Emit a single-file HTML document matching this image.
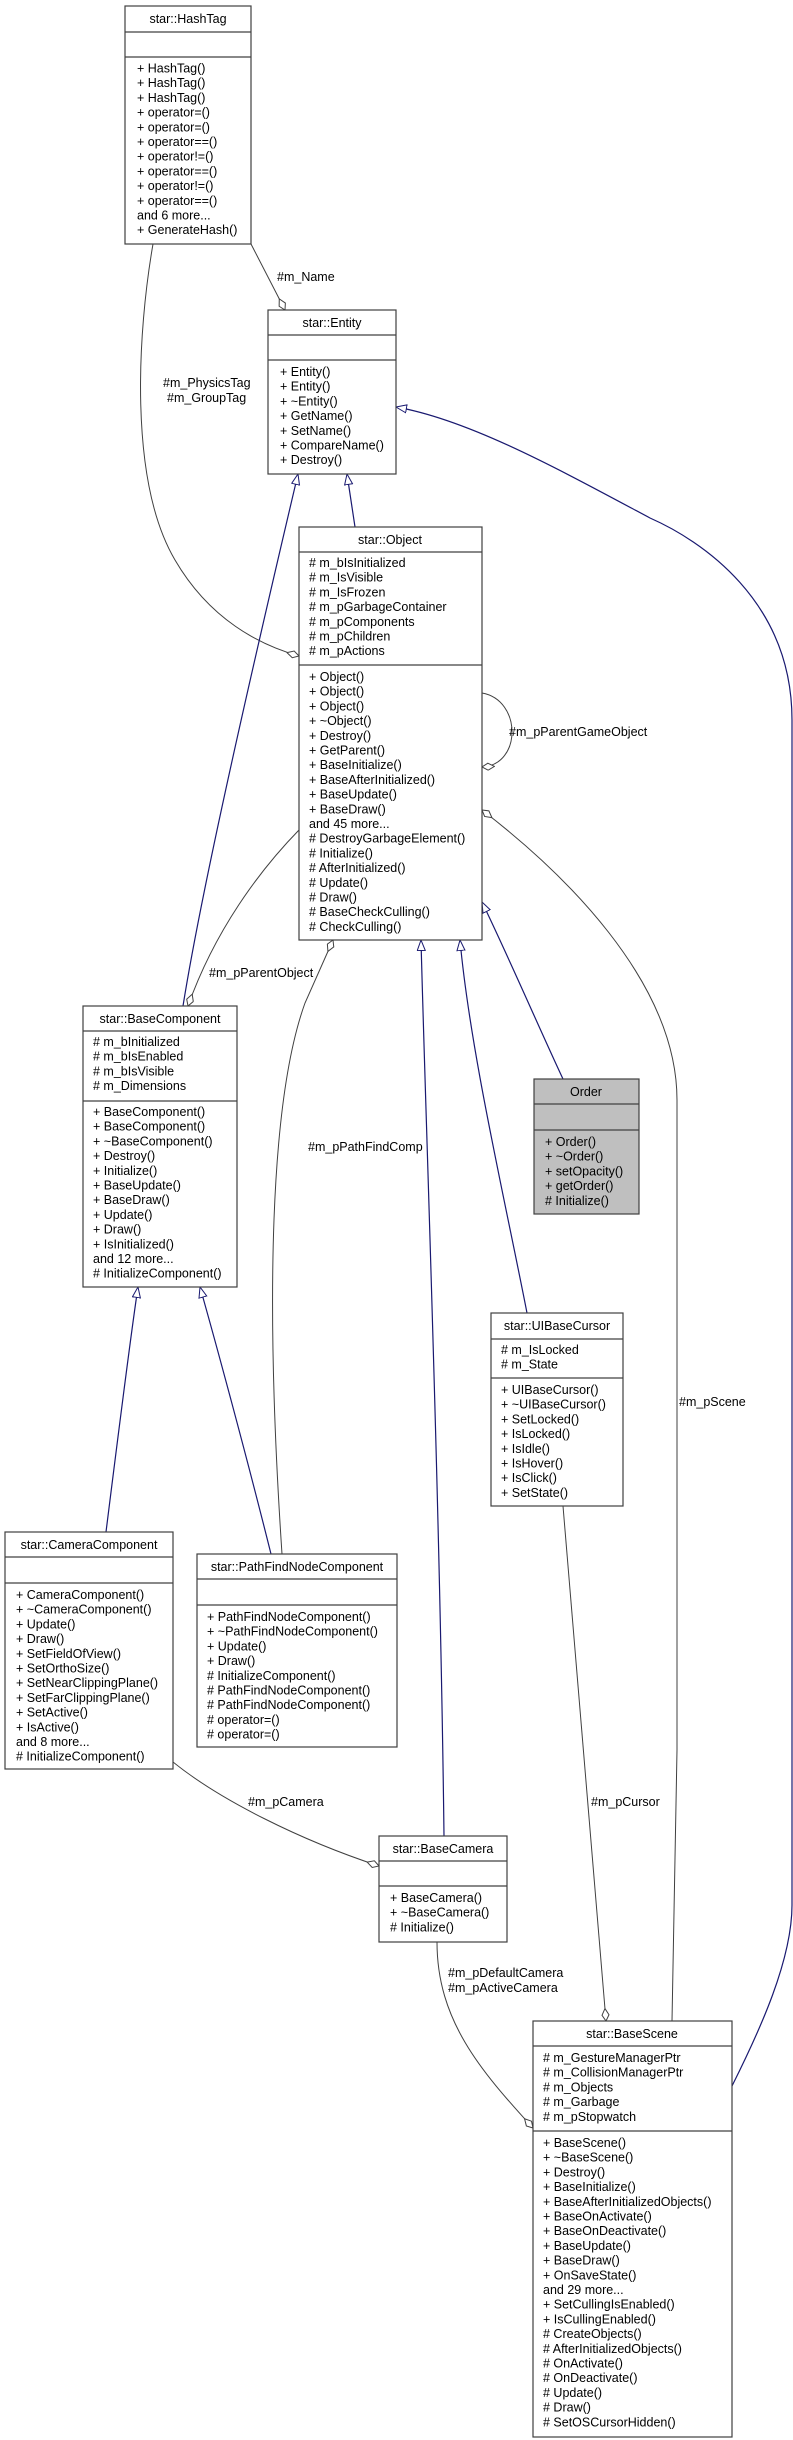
<!DOCTYPE html>
<html><head><meta charset="utf-8"><style>
html,body{margin:0;padding:0;background:#fff;}
svg{display:block;font-family:"Liberation Sans",Arial,sans-serif;font-size:12.5px;}
.b{fill:#fff;stroke:#404040;stroke-width:1.2;}
.d{stroke:#404040;stroke-width:1.2;}
.g{fill:none;stroke:#404040;stroke-width:1;}
.u{fill:none;stroke:#191970;stroke-width:1.2;}
text{fill:#000;}
</style></head><body>
<svg width="793" height="2440" viewBox="0 0 793 2440" xmlns="http://www.w3.org/2000/svg">
<defs>
<marker id="tri" markerUnits="userSpaceOnUse" markerWidth="14" markerHeight="10" refX="11" refY="4.5" orient="auto">
<path d="M0.5,0.5 L11,4.5 L0.5,8.5 Z" fill="#fff" stroke="#191970" stroke-width="1"/></marker>
<marker id="dia" markerUnits="userSpaceOnUse" markerWidth="15" markerHeight="9" refX="13" refY="4" orient="auto">
<path d="M0.5,4 L7,0.5 L13,4 L7,7.5 Z" fill="#fff" stroke="#404040" stroke-width="1"/></marker>
</defs>

<!-- connectors -->
<path class="g" d="M251,244 L285,310" marker-end="url(#dia)"/>
<path class="g" d="M153,244 C138,330 128,480 175,560 C210,620 260,645 299,656" marker-end="url(#dia)"/>
<path class="u" d="M355,527 L347,474" marker-end="url(#tri)"/>
<path class="u" d="M183,1006 C200,900 240,720 298,474" marker-end="url(#tri)"/>
<path class="u" d="M732,2086 C760,2030 792,1960 792,1905 L792,720 C792,600 700,540 650,518 C560,470 470,420 396,407" marker-end="url(#tri)"/>
<path class="g" d="M482,693 C522,700 522,765 482,767" marker-end="url(#dia)"/>
<path class="g" d="M672,2021 L677,1750 L677,1100 C677,980 560,870 482,810" marker-end="url(#dia)"/>
<path class="u" d="M563,1079 C540,1030 510,960 482,902" marker-end="url(#tri)"/>
<path class="u" d="M527,1313 C505,1200 470,1050 460,940" marker-end="url(#tri)"/>
<path class="u" d="M444,1836 C440,1500 425,1100 421,940" marker-end="url(#tri)"/>
<path class="g" d="M299,830 C260,870 215,930 188,1006" marker-end="url(#dia)"/>
<path class="g" d="M282,1554 C265,1300 270,1100 305,1003 L333,940" marker-end="url(#dia)"/>
<path class="u" d="M106,1532 C120,1420 130,1340 138,1287" marker-end="url(#tri)"/>
<path class="u" d="M271,1554 C245,1450 215,1340 200,1287" marker-end="url(#tri)"/>
<path class="g" d="M173,1762 C220,1800 300,1840 379,1866" marker-end="url(#dia)"/>
<path class="g" d="M437,1942 C437,2020 480,2070 533,2128" marker-end="url(#dia)"/>
<path class="g" d="M563,1506 L606,2021" marker-end="url(#dia)"/>

<!-- labels -->
<text x="277" y="281">#m_Name</text>
<text x="163" y="387">#m_PhysicsTag</text>
<text x="167" y="402">#m_GroupTag</text>
<text x="509" y="736">#m_pParentGameObject</text>
<text x="209" y="977">#m_pParentObject</text>
<text x="308" y="1151">#m_pPathFindComp</text>
<text x="679" y="1406">#m_pScene</text>
<text x="591" y="1806">#m_pCursor</text>
<text x="248" y="1806">#m_pCamera</text>
<text x="448" y="1977">#m_pDefaultCamera</text>
<text x="448" y="1992">#m_pActiveCamera</text>

<!-- HashTag -->
<rect class="b" x="125" y="6" width="126" height="238"/>
<line class="d" x1="125" y1="32" x2="251" y2="32"/><line class="d" x1="125" y1="57" x2="251" y2="57"/>
<text x="188" y="23" text-anchor="middle">star::HashTag</text>
<g transform="translate(137,72.5)">
<text y="0">+ HashTag()</text><text y="14.7">+ HashTag()</text><text y="29.4">+ HashTag()</text><text y="44.1">+ operator=()</text><text y="58.8">+ operator=()</text><text y="73.5">+ operator==()</text><text y="88.2">+ operator!=()</text><text y="102.9">+ operator==()</text><text y="117.6">+ operator!=()</text><text y="132.3">+ operator==()</text><text y="147">and 6 more...</text><text y="161.7">+ GenerateHash()</text>
</g>

<!-- Entity -->
<rect class="b" x="268" y="310" width="128" height="164"/>
<line class="d" x1="268" y1="335" x2="396" y2="335"/><line class="d" x1="268" y1="360" x2="396" y2="360"/>
<text x="332" y="327" text-anchor="middle">star::Entity</text>
<g transform="translate(280,376)">
<text y="0">+ Entity()</text><text y="14.7">+ Entity()</text><text y="29.4">+ ~Entity()</text><text y="44.1">+ GetName()</text><text y="58.8">+ SetName()</text><text y="73.5">+ CompareName()</text><text y="88.2">+ Destroy()</text>
</g>

<!-- Object -->
<rect class="b" x="299" y="527" width="183" height="413"/>
<line class="d" x1="299" y1="552" x2="482" y2="552"/><line class="d" x1="299" y1="665" x2="482" y2="665"/>
<text x="390" y="544" text-anchor="middle">star::Object</text>
<g transform="translate(309,567)">
<text y="0"># m_bIsInitialized</text><text y="14.7"># m_IsVisible</text><text y="29.4"># m_IsFrozen</text><text y="44.1"># m_pGarbageContainer</text><text y="58.8"># m_pComponents</text><text y="73.5"># m_pChildren</text><text y="88.2"># m_pActions</text>
</g>
<g transform="translate(309,681)">
<text y="0">+ Object()</text><text y="14.7">+ Object()</text><text y="29.4">+ Object()</text><text y="44.1">+ ~Object()</text><text y="58.8">+ Destroy()</text><text y="73.5">+ GetParent()</text><text y="88.2">+ BaseInitialize()</text><text y="102.9">+ BaseAfterInitialized()</text><text y="117.6">+ BaseUpdate()</text><text y="132.3">+ BaseDraw()</text><text y="147">and 45 more...</text><text y="161.7"># DestroyGarbageElement()</text><text y="176.4"># Initialize()</text><text y="191.1"># AfterInitialized()</text><text y="205.8"># Update()</text><text y="220.5"># Draw()</text><text y="235.2"># BaseCheckCulling()</text><text y="249.9"># CheckCulling()</text>
</g>

<!-- BaseComponent -->
<rect class="b" x="83" y="1006" width="154" height="281"/>
<line class="d" x1="83" y1="1031" x2="237" y2="1031"/><line class="d" x1="83" y1="1101" x2="237" y2="1101"/>
<text x="160" y="1023" text-anchor="middle">star::BaseComponent</text>
<g transform="translate(93,1046)">
<text y="0"># m_bInitialized</text><text y="14.7"># m_bIsEnabled</text><text y="29.4"># m_bIsVisible</text><text y="44.1"># m_Dimensions</text>
</g>
<g transform="translate(93,1116)">
<text y="0">+ BaseComponent()</text><text y="14.7">+ BaseComponent()</text><text y="29.4">+ ~BaseComponent()</text><text y="44.1">+ Destroy()</text><text y="58.8">+ Initialize()</text><text y="73.5">+ BaseUpdate()</text><text y="88.2">+ BaseDraw()</text><text y="102.9">+ Update()</text><text y="117.6">+ Draw()</text><text y="132.3">+ IsInitialized()</text><text y="147">and 12 more...</text><text y="161.7"># InitializeComponent()</text>
</g>

<!-- Order -->
<rect class="b" x="534" y="1079" width="105" height="135" style="fill:#bfbfbf"/>
<line class="d" x1="534" y1="1104" x2="639" y2="1104"/><line class="d" x1="534" y1="1130" x2="639" y2="1130"/>
<text x="586" y="1096" text-anchor="middle">Order</text>
<g transform="translate(545,1146)">
<text y="0">+ Order()</text><text y="14.7">+ ~Order()</text><text y="29.4">+ setOpacity()</text><text y="44.1">+ getOrder()</text><text y="58.8"># Initialize()</text>
</g>

<!-- UIBaseCursor -->
<rect class="b" x="491" y="1313" width="132" height="193"/>
<line class="d" x1="491" y1="1339" x2="623" y2="1339"/><line class="d" x1="491" y1="1378" x2="623" y2="1378"/>
<text x="557" y="1330" text-anchor="middle">star::UIBaseCursor</text>
<g transform="translate(501,1354)">
<text y="0"># m_IsLocked</text><text y="14.7"># m_State</text>
</g>
<g transform="translate(501,1394)">
<text y="0">+ UIBaseCursor()</text><text y="14.7">+ ~UIBaseCursor()</text><text y="29.4">+ SetLocked()</text><text y="44.1">+ IsLocked()</text><text y="58.8">+ IsIdle()</text><text y="73.5">+ IsHover()</text><text y="88.2">+ IsClick()</text><text y="102.9">+ SetState()</text>
</g>

<!-- CameraComponent -->
<rect class="b" x="5" y="1532" width="168" height="237"/>
<line class="d" x1="5" y1="1557" x2="173" y2="1557"/><line class="d" x1="5" y1="1583" x2="173" y2="1583"/>
<text x="89" y="1549" text-anchor="middle">star::CameraComponent</text>
<g transform="translate(16,1599)">
<text y="0">+ CameraComponent()</text><text y="14.7">+ ~CameraComponent()</text><text y="29.4">+ Update()</text><text y="44.1">+ Draw()</text><text y="58.8">+ SetFieldOfView()</text><text y="73.5">+ SetOrthoSize()</text><text y="88.2">+ SetNearClippingPlane()</text><text y="102.9">+ SetFarClippingPlane()</text><text y="117.6">+ SetActive()</text><text y="132.3">+ IsActive()</text><text y="147">and 8 more...</text><text y="161.7"># InitializeComponent()</text>
</g>

<!-- PathFindNodeComponent -->
<rect class="b" x="197" y="1554" width="200" height="193"/>
<line class="d" x1="197" y1="1579" x2="397" y2="1579"/><line class="d" x1="197" y1="1605" x2="397" y2="1605"/>
<text x="297" y="1571" text-anchor="middle">star::PathFindNodeComponent</text>
<g transform="translate(207,1621)">
<text y="0">+ PathFindNodeComponent()</text><text y="14.7">+ ~PathFindNodeComponent()</text><text y="29.4">+ Update()</text><text y="44.1">+ Draw()</text><text y="58.8"># InitializeComponent()</text><text y="73.5"># PathFindNodeComponent()</text><text y="88.2"># PathFindNodeComponent()</text><text y="102.9"># operator=()</text><text y="117.6"># operator=()</text>
</g>

<!-- BaseCamera -->
<rect class="b" x="379" y="1836" width="128" height="106"/>
<line class="d" x1="379" y1="1861" x2="507" y2="1861"/><line class="d" x1="379" y1="1886" x2="507" y2="1886"/>
<text x="443" y="1853" text-anchor="middle">star::BaseCamera</text>
<g transform="translate(390,1902)">
<text y="0">+ BaseCamera()</text><text y="14.7">+ ~BaseCamera()</text><text y="29.4"># Initialize()</text>
</g>

<!-- BaseScene -->
<rect class="b" x="533" y="2021" width="199" height="416"/>
<line class="d" x1="533" y1="2046" x2="732" y2="2046"/><line class="d" x1="533" y1="2131" x2="732" y2="2131"/>
<text x="632" y="2038" text-anchor="middle">star::BaseScene</text>
<g transform="translate(543,2062)">
<text y="0"># m_GestureManagerPtr</text><text y="14.7"># m_CollisionManagerPtr</text><text y="29.4"># m_Objects</text><text y="44.1"># m_Garbage</text><text y="58.8"># m_pStopwatch</text>
</g>
<g transform="translate(543,2147)">
<text y="0">+ BaseScene()</text><text y="14.7">+ ~BaseScene()</text><text y="29.4">+ Destroy()</text><text y="44.1">+ BaseInitialize()</text><text y="58.8">+ BaseAfterInitializedObjects()</text><text y="73.5">+ BaseOnActivate()</text><text y="88.2">+ BaseOnDeactivate()</text><text y="102.9">+ BaseUpdate()</text><text y="117.6">+ BaseDraw()</text><text y="132.3">+ OnSaveState()</text><text y="147">and 29 more...</text><text y="161.7">+ SetCullingIsEnabled()</text><text y="176.4">+ IsCullingEnabled()</text><text y="191.1"># CreateObjects()</text><text y="205.8"># AfterInitializedObjects()</text><text y="220.5"># OnActivate()</text><text y="235.2"># OnDeactivate()</text><text y="249.9"># Update()</text><text y="264.6"># Draw()</text><text y="279.3"># SetOSCursorHidden()</text>
</g>
</svg>
</body></html>
